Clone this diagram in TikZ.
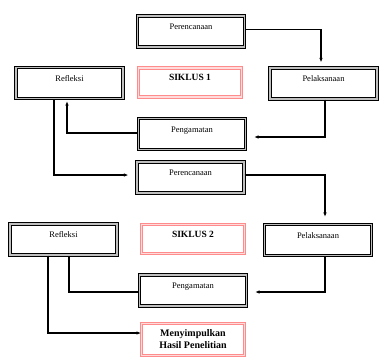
\documentclass[tikz,border=0pt]{standalone}
\usepackage{fontspec}
\setmainfont{Liberation Serif}
\usetikzlibrary{arrows.meta}
\tikzset{
    stepbox/.style={draw=black, line width=1.2pt, double=gray!50, double distance=1.3pt,
        minimum width=107pt, minimum height=31pt, text height=6pt, text depth=10pt,
        font=\fontsize{8.5}{10}\selectfont},
    cyclebox/.style={draw=red!45, line width=0.9pt, double=red!14, double distance=1.6pt,
        minimum width=103pt, minimum height=29pt, text height=6pt, text depth=10pt,
        font=\fontsize{9.5}{10}\selectfont\bfseries},
    arr/.style={-{Latex[length=4.5pt,width=3.5pt]}, line width=1.2pt},
    ln/.style={line width=1.2pt}
}
\begin{document}
\begin{tikzpicture}[x=1pt, y=-1pt]
            \useasboundingbox (0, 0) rectangle (390, 360);

            \node[stepbox] (pr1) at (191, 31.5) {Perencanaan};
            \node[stepbox] (re1) at (69.5, 83) {Refleksi};
            \node[cyclebox] (s1) at (190, 82.5) {SIKLUS 1};
            \node[stepbox] (pl1) at (323.5, 83.5) {Pelaksanaan};
            \node[stepbox] (pg1) at (192, 134) {Pengamatan};

            \node[stepbox] (pr2) at (190.5, 177.5) {Perencanaan};
            \node[stepbox] (re2) at (63.5, 239.5) {Refleksi};
            \node[cyclebox] (s2) at (193, 239) {SIKLUS 2};
            \node[stepbox] (pl2) at (318, 240) {Pelaksanaan};
            \node[stepbox] (pg2) at (193, 290.5) {Pengamatan};
            \node[cyclebox, minimum height=32pt, text height=, text depth=, align=center,
                font=\fontsize{10}{12}\selectfont\bfseries] (sim) at (193, 339.5)
                {Menyimpulkan\\Hasil Penelitian};

            \draw[arr, shorten >=5pt] ([yshift=2pt]pr1.east) -| ([xshift=-2.5pt]pl1.north);
            \draw[arr, shorten >=8pt] ([xshift=1.5pt]pl1.south) |- ([yshift=-3pt]pg1.east);
            \draw[arr, shorten >=2pt] ([yshift=1pt]pg1.west) -| ([xshift=-2.5pt]re1.south);
            \draw[arr, shorten >=8pt] ([xshift=-15.5pt]re1.south) |- ([yshift=2.5pt]pr2.west);

            \draw[arr, shorten >=7pt] ([yshift=2.5pt]pr2.east) -| ([xshift=7pt]pl2.north);
            \draw[arr, shorten >=8pt] ([xshift=7pt]pl2.south) |- ([yshift=-1.5pt]pg2.east);
            \draw[ln] ([yshift=-1.5pt]pg2.west) -| ([xshift=5.5pt]re2.south);
            \draw[arr] ([xshift=-15.5pt]re2.south) |- ([yshift=6.5pt]sim.west);
        \end{tikzpicture}
\end{document}
